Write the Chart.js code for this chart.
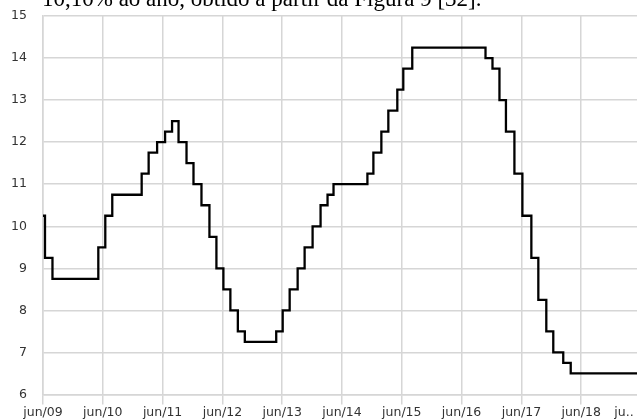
<!DOCTYPE html>
<html>
<head>
<meta charset="utf-8">
<script src="https://cdn.jsdelivr.net/npm/chart.js@4/dist/chart.umd.min.js"></script>
<style>
  html, body { margin: 0; padding: 0; background: #fff; overflow: hidden; }
  #wrap { position: relative; width: 637px; height: 419px; }
  #caption {
    position: absolute; left: 42px; top: -13px;
    font: 23px/23px "Liberation Serif", "Times New Roman", serif;
    color: #000; white-space: nowrap;
  }
  canvas { position: absolute; left: 0; top: 0; }
</style>
</head>
<body>
<div id="wrap">
  <canvas id="chart" width="637" height="419"></canvas>
  <div id="caption">10,10% ao ano, obtido a partir da Figura 9 [32].</div>
</div>
<script>
// months counted from jun/09, value = rate from that point on
const months = [0, 0.4, 1.9, 11.1, 12.5, 13.9, 19.8, 21.2, 22.9, 24.5, 25.9, 27.2,
  28.8, 30.2, 31.8, 33.4, 34.8, 36.2, 37.6, 39.1, 40.5, 46.8, 48.1, 49.5, 51.1,
  52.5, 54.1, 55.7, 57.1, 58.3, 65.1, 66.3, 67.9, 69.3, 71.1, 72.3, 74.1, 88.8,
  90.2, 91.6, 92.9, 94.6, 96.2, 98.0, 99.4, 101.0, 102.4, 104.4, 105.9, 119.2];
const selic = [10.25, 9.25, 8.75, 9.5, 10.25, 10.75, 11.25, 11.75, 12.0, 12.25, 12.5, 12.0,
  11.5, 11.0, 10.5, 9.75, 9.0, 8.5, 8.0, 7.5, 7.25, 7.5, 8.0, 8.5, 9.0,
  9.5, 10.0, 10.5, 10.75, 11.0, 11.25, 11.75, 12.25, 12.75, 13.25, 13.75, 14.25, 14.0,
  13.75, 13.0, 12.25, 11.25, 10.25, 9.25, 8.25, 7.5, 7.0, 6.75, 6.5, 6.5];

const xTickValues = [0, 12, 24, 36, 48, 60, 72, 84, 96, 108, 116.6];
const xTickLabels = ['jun/09', 'jun/10', 'jun/11', 'jun/12', 'jun/13', 'jun/14',
  'jun/15', 'jun/16', 'jun/17', 'jun/18', 'ju..'];

const gridGray = '#d6d6d6';
const tickFont = { family: 'DejaVu Sans, sans-serif', size: 12.5 };

new Chart(document.getElementById('chart').getContext('2d'), {
  type: 'line',
  data: {
    datasets: [{
      data: months.map((m, i) => ({ x: m, y: selic[i] })),
      stepped: 'before',
      borderColor: '#000',
      borderWidth: 2.3,
      pointRadius: 0,
      fill: false
    }]
  },
  options: {
    responsive: false,
    animation: false,
    layout: { padding: { top: 16, right: 0, left: 0, bottom: 0 } },
    plugins: { legend: { display: false }, tooltip: { enabled: false } },
    scales: {
      x: {
        type: 'linear',
        min: 0,
        max: 119.2,
        afterBuildTicks: s => { s.ticks = xTickValues.map(v => ({ value: v })); },
        afterFit: s => { s.height = 24.5; },
        grid: {
          color: c => (c.index === xTickValues.length - 1 ? 'rgba(0,0,0,0)' : gridGray),
          lineWidth: 1.5,
          tickLength: 10
        },
        border: { color: gridGray, width: 1.5 },
        ticks: {
          autoSkip: false,
          maxRotation: 0,
          padding: 1,
          color: '#333',
          font: tickFont,
          callback: (v, i) => xTickLabels[i]
        }
      },
      y: {
        min: 6,
        max: 15,
        // fixed axis width; tick padding shouldn't push the plot down
        afterFit: s => { s.width = 43; s.paddingTop = 0; s.paddingBottom = 0; },
        grid: { color: gridGray, lineWidth: 1.5, drawTicks: false },
        border: { color: gridGray, width: 1.5 },
        ticks: { stepSize: 1, padding: 16, color: '#333', font: tickFont }
      }
    }
  }
});
</script>
</body>
</html>
